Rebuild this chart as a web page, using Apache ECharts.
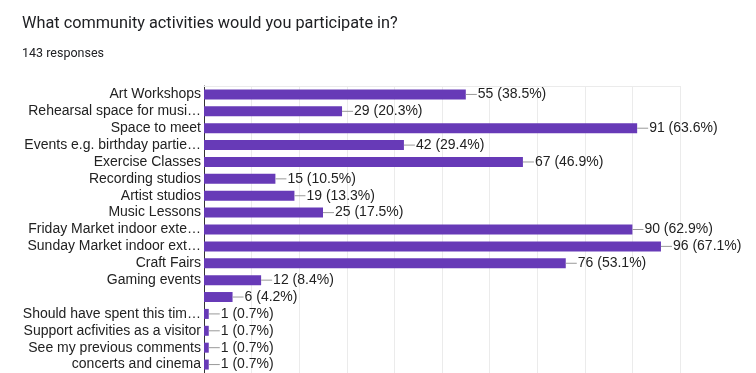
<!DOCTYPE html>
<html>
<head>
<meta charset="utf-8">
<script src="https://cdn.jsdelivr.net/npm/echarts@6/dist/echarts.min.js"></script>
<style>
html,body{margin:0;padding:0;background:#fff;}
#chart{width:756px;height:373px;}
</style>
</head>
<body>
<div id="chart"></div>
<script>
const titleText = "What community activities would you participate in?";
const subtitleText = "143 responses";
const categories = [
  "Art Workshops",
  "Rehearsal space for musi…",
  "Space to meet",
  "Events e.g. birthday partie…",
  "Exercise Classes",
  "Recording studios",
  "Artist studios",
  "Music Lessons",
  "Friday Market indoor exte…",
  "Sunday Market indoor ext…",
  "Craft Fairs",
  "Gaming events",
  "",
  "Should have spent this tim…",
  "Support acfivities as a visitor",
  "See my previous comments",
  "concerts and cinema"
];
const counts = [55, 29, 91, 42, 67, 15, 19, 25, 90, 96, 76, 12, 6, 1, 1, 1, 1];
const percents = ["38.5%", "20.3%", "63.6%", "29.4%", "46.9%", "10.5%", "13.3%", "17.5%", "62.9%", "67.1%", "53.1%", "8.4%", "4.2%", "0.7%", "0.7%", "0.7%", "0.7%"];
</script>
<script>
const chart = echarts.init(document.getElementById('chart'), null, {renderer: 'canvas'});
const labelFont = 'Arial, "Liberation Sans", sans-serif';
chart.setOption({
  animation: false,
  backgroundColor: '#ffffff',
  title: [
    {text: titleText, left: 22, top: 16, padding: 0,
     textStyle: {fontFamily: 'Roboto', fontSize: 16.3, fontWeight: 'normal', color: '#202124'}},
    {text: subtitleText, left: 22, top: 47, padding: 0,
     textStyle: {fontFamily: 'Roboto', fontSize: 12.5, fontWeight: 'normal', color: '#202124'}}
  ],
  grid: {left: 204, right: 76, top: 86, bottom: -2, containLabel: false},
  xAxis: {
    type: 'value', min: 0, max: 100, interval: 10, position: 'top',
    axisLine: {show: true, lineStyle: {color: '#ebebeb'}},
    axisTick: {show: false}, axisLabel: {show: false},
    splitLine: {show: true, lineStyle: {color: '#ebebeb', width: 1}}
  },
  yAxis: {
    type: 'category', inverse: true, data: categories,
    axisLine: {show: true, lineStyle: {color: '#333333', width: 1}},
    axisTick: {show: false},
    axisLabel: {interval: 0, margin: 3, fontFamily: labelFont, fontSize: 14, color: '#222222'}
  },
  series: [{
    type: 'bar',
    data: counts,
    barWidth: 10,
    itemStyle: {color: '#673ab7'},
    label: {
      show: true, position: 'right', distance: 0,
      formatter: function (p) { return '{ln|}{t|' + counts[p.dataIndex] + ' (' + percents[p.dataIndex] + ')}'; },
      rich: {
        ln: {width: 11, height: 1, backgroundColor: '#999999', verticalAlign: 'middle'},
        t: {fontFamily: labelFont, fontSize: 14, color: '#222222', padding: [0, 0, 0, 1]}
      }
    }
  }]
});
</script>
</body>
</html>
